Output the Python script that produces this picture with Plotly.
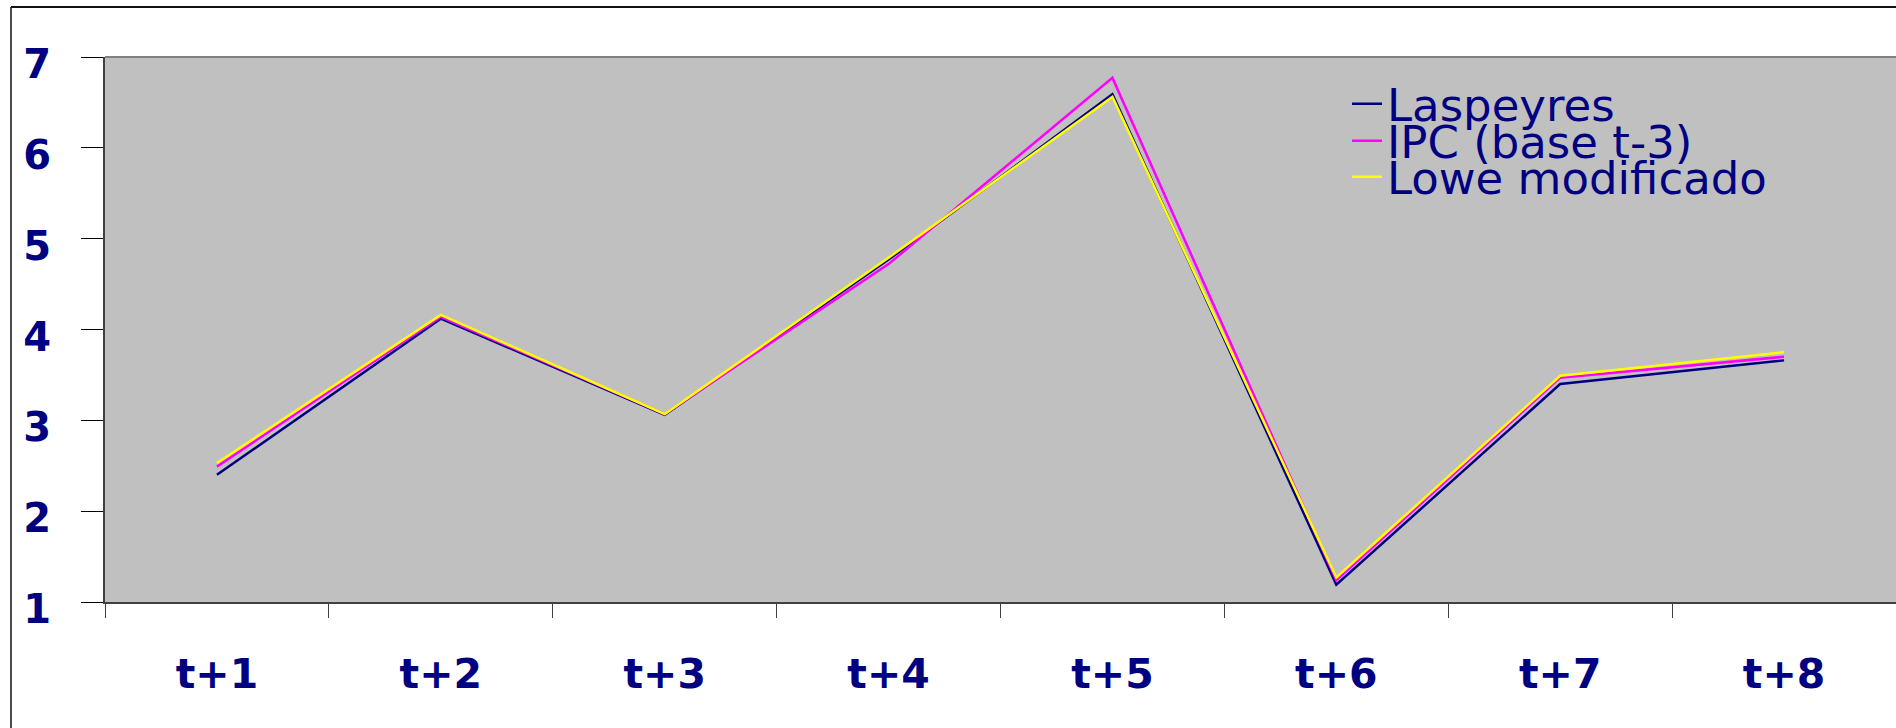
import plotly.graph_objects as go

categories = ["t+1", "t+2", "t+3", "t+4", "t+5", "t+6", "t+7", "t+8"]
laspeyres = [2.40, 4.12, 3.06, 4.77, 6.59, 1.19, 3.40, 3.66]
ipc_base_t3 = [2.49, 4.14, 3.07, 4.72, 6.77, 1.24, 3.47, 3.70]
lowe_modificado = [2.53, 4.16, 3.07, 4.79, 6.56, 1.27, 3.49, 3.75]
y_ticks = [1, 2, 3, 4, 5, 6, 7]

NAVY = "#000080"
TICK_FONT = "DejaVu Sans"
LEG_FONT = "DejaVu Sans"

W, H = 1896, 728
L, R, T, B = 105, 0, 57, 126
PW = W - L - R
PH = H - T - B


def px_x(px):
    return (px - L) / PW


def px_y(py):
    return (H - B - py) / PH


fig = go.Figure()
series = [
    ("Laspeyres", laspeyres, "#000080", "legend"),
    ("IPC (base t-3)", ipc_base_t3, "#FF00FF", "legend2"),
    ("Lowe modificado", lowe_modificado, "#FFFF00", "legend3"),
]
for name, vals, col, lg in series:
    fig.add_trace(go.Scatter(
        x=categories, y=vals, name=name, mode="lines",
        line=dict(color=col, width=2.5), legend=lg,
    ))

legend_common = dict(
    xanchor="left", yanchor="middle", bgcolor="rgba(0,0,0,0)",
    font=dict(family=LEG_FONT, size=45, color=NAVY), borderwidth=0,
)
lx = px_x(1347)
fig.update_layout(
    width=W, height=H,
    margin=dict(l=L, r=R, t=T, b=B, pad=0, autoexpand=False),
    paper_bgcolor="white",
    plot_bgcolor="#C0C0C0",
    showlegend=True,
    legend=dict(x=lx, y=px_y(104), **legend_common),
    legend2=dict(x=lx, y=px_y(141), **legend_common),
    legend3=dict(x=lx, y=px_y(177), **legend_common),
    xaxis=dict(
        type="category", categoryorder="array", categoryarray=categories,
        range=[-0.5, len(categories) - 0.5], automargin=False,
        tickson="boundaries", ticks="outside", ticklen=14, tickwidth=1,
        tickcolor="#404040",
        showline=True, linecolor="#404040", linewidth=2,
        showgrid=False, zeroline=False,
        tickfont=dict(family=TICK_FONT, size=41, color=NAVY, weight="bold"),
        ticklabelstandoff=35,
    ),
    yaxis=dict(
        range=[1, 7], tickmode="array", tickvals=y_ticks,
        ticktext=[str(v) for v in y_ticks], automargin=False,
        ticks="outside", ticklen=22, tickwidth=1, tickcolor="#000000",
        showline=True, linecolor="#404040", linewidth=2,
        showgrid=False, zeroline=False,
        tickfont=dict(family=TICK_FONT, size=40, color=NAVY, weight="bold"),
        ticklabelstandoff=22, ticklabelshift=7,
    ),
    shapes=[
        dict(type="line", xref="paper", yref="paper", x0=0, x1=1, y0=1, y1=1,
             line=dict(color="#808080", width=2)),
        dict(type="line", xref="paper", yref="paper",
             x0=px_x(11), x1=px_x(11), y0=px_y(7), y1=px_y(730),
             line=dict(color="#111111", width=1.5)),
        dict(type="line", xref="paper", yref="paper",
             x0=px_x(11), x1=px_x(1900), y0=px_y(7), y1=px_y(7),
             line=dict(color="#111111", width=2)),
    ],
)

fig.write_html(
    "out.html",
    config={"displayModeBar": False},
    post_script="document.body.style.margin='0';",
)
